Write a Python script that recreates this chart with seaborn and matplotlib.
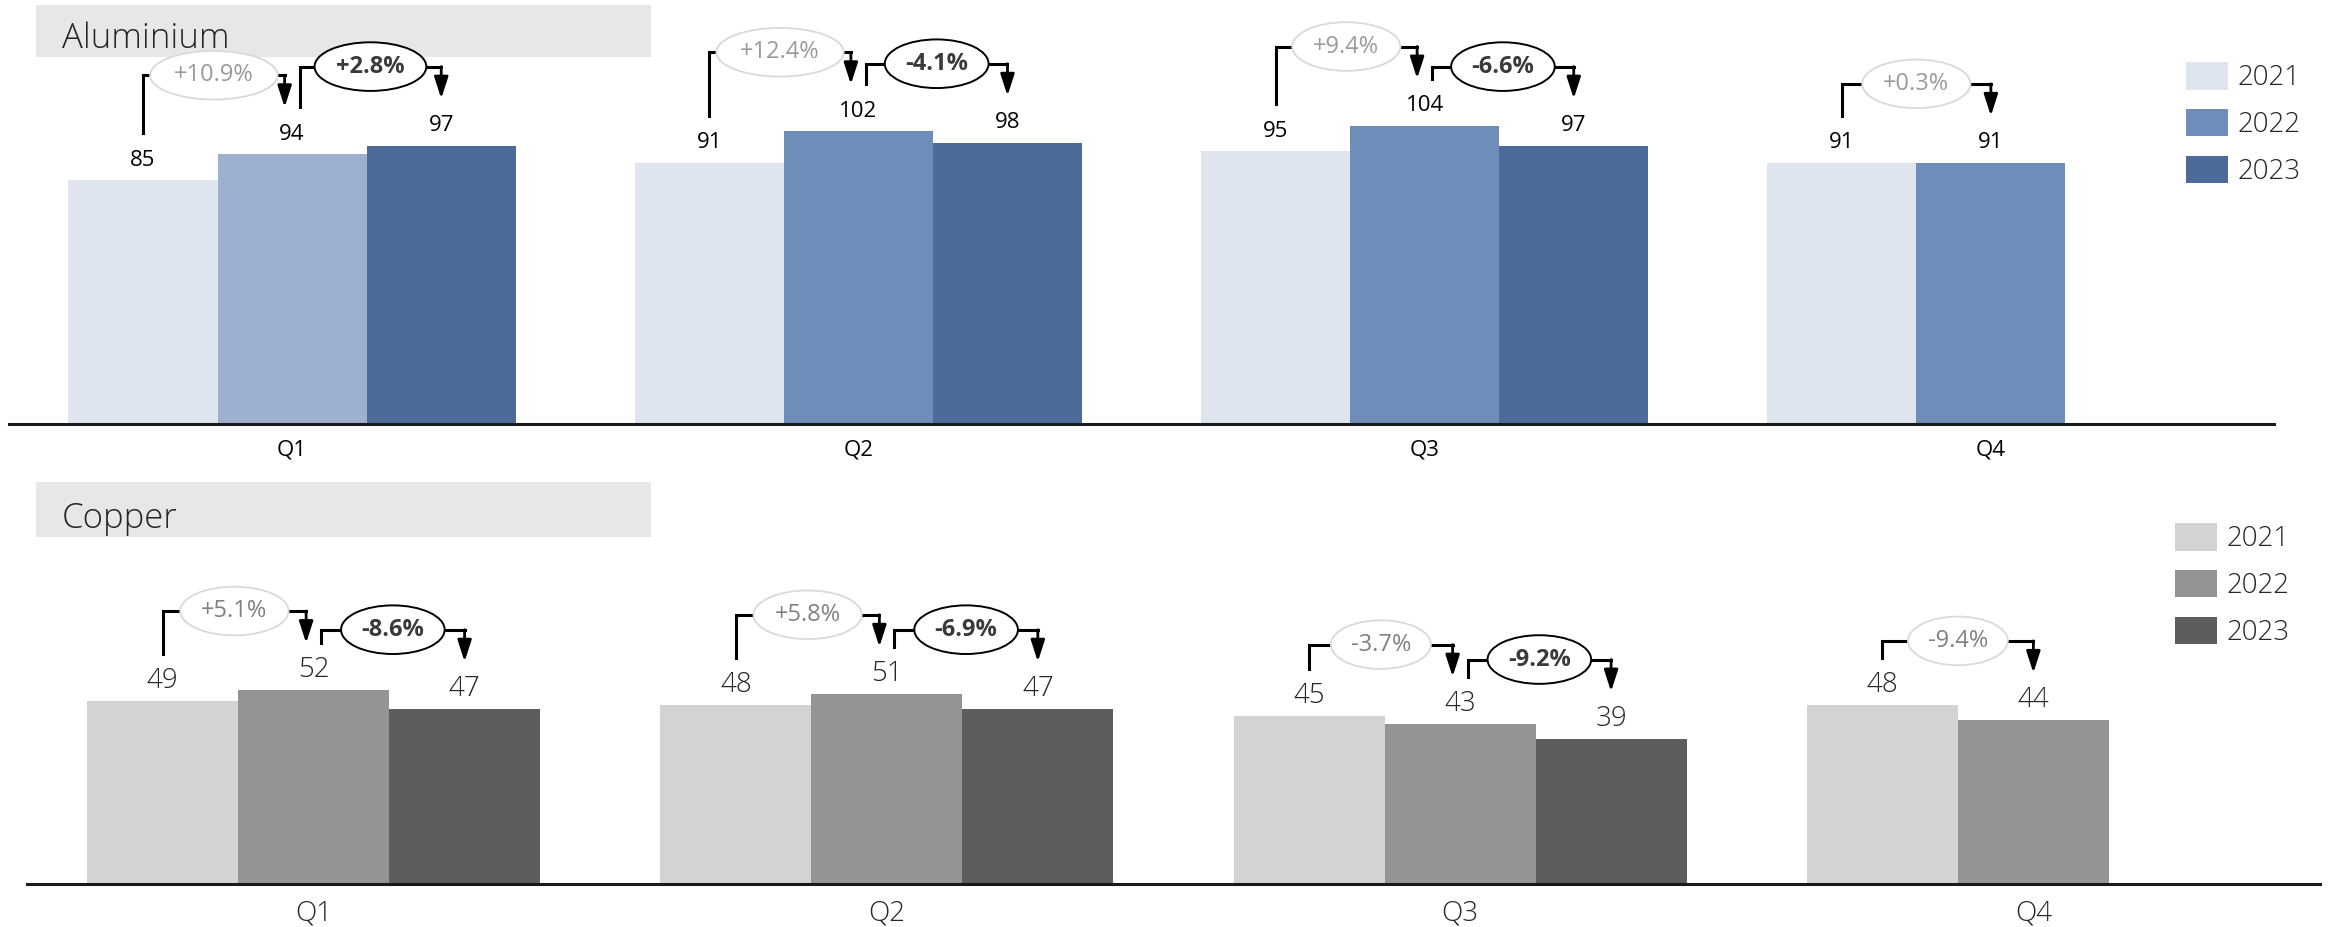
import numpy as np
import pandas as pd
import matplotlib
matplotlib.use("Agg")
import matplotlib.pyplot as plt
from matplotlib.patches import Rectangle, Patch
import seaborn as sns

# ---- data -------------------------------------------------------------
quarters = ["Q1", "Q2", "Q3", "Q4"]
years = ["2021", "2022", "2023"]

aluminium_2021 = [85, 91, 95, 91]
aluminium_2022 = [94, 102, 104, 91]
aluminium_2023 = [97, 98, 97, np.nan]
aluminium_change_22 = ["+10.9%", "+12.4%", "+9.4%", "+0.3%"]
aluminium_change_23 = ["+2.8%", "-4.1%", "-6.6%", None]

copper_2021 = [49, 48, 45, 48]
copper_2022 = [52, 51, 43, 44]
copper_2023 = [47, 47, 39, np.nan]
copper_change_22 = ["+5.1%", "+5.8%", "-3.7%", "-9.4%"]
copper_change_23 = ["-8.6%", "-6.9%", "-9.2%", None]

aluminium_colors = ["#dfe5ef", "#6e8db8", "#4c6b99"]
aluminium_q1_2022_color = "#9db0cf"
copper_colors = ["#d3d3d3", "#949494", "#5d5d5d"]

# ---- style ------------------------------------------------------------
sns.set_style("white")
plt.rcParams["font.family"] = ["Open Sans", "DejaVu Sans"]

W, H = 2330, 927
fig = plt.figure(figsize=(W / 100, H / 100), dpi=100)


def fig_box(left, top, right, bottom):
    return [left / W, 1 - bottom / H, (right - left) / W, (bottom - top) / H]


def long_frame(series):
    rows = []
    for year, vals in zip(years, series):
        for q, v in zip(quarters, vals):
            if not np.isnan(v):
                rows.append({"quarter": q, "year": year, "value": v})
    return pd.DataFrame(rows)


def bracket(ax, x0, top0, x1, top1, text, px_y, text_kw, edge, edge_lw):
    y0 = top0 + 47 / px_y
    y1 = top1 + 47 / px_y
    yh = top1 + 79 / px_y
    ax.plot([x0, x0, x1], [y0, yh, yh], color="black", lw=2.2,
            solid_joinstyle="miter", solid_capstyle="projecting",
            clip_on=False, zorder=3)
    ax.annotate("", xy=(x1, y1), xytext=(x1, yh),
                arrowprops=dict(arrowstyle="-|>,head_length=1.3,head_width=0.42",
                                color="black", lw=2.0, shrinkA=0, shrinkB=0,
                                mutation_scale=10),
                annotation_clip=False, zorder=3)
    ax.text((x0 + x1) / 2, yh, text, ha="center", va="center", zorder=4,
            clip_on=False,
            bbox=dict(boxstyle="ellipse,pad=0.22", fc="white", ec=edge, lw=edge_lw),
            **text_kw)


def draw_panel(ax, series, palette, change_a, change_b, ymax,
               label_size, label_weight, label_color, grey_text):
    df = long_frame(series)
    sns.barplot(data=df, x="quarter", y="value", hue="year", order=quarters,
                hue_order=years, palette=palette, width=0.79, saturation=1,
                legend=False, errorbar=None, linewidth=0, ax=ax, zorder=2)
    ax.set_facecolor("none")
    ax.set_xlim(-0.5, 3.5)
    ax.set_ylim(0, ymax)
    ax.set_xlabel("")
    ax.set_ylabel("")
    ax.set_yticks([])
    ax.set_xticks(range(len(quarters)))
    ax.set_xticklabels(quarters, fontsize=label_size, fontweight=label_weight,
                       color=label_color)
    ax.tick_params(axis="x", length=0, pad=11)
    for side in ["top", "left", "right"]:
        ax.spines[side].set_visible(False)
    ax.spines["bottom"].set_color("#1a1a1a")
    ax.spines["bottom"].set_linewidth(2.2)

    px_y = ax.transData.transform((0, 1))[1] - ax.transData.transform((0, 0))[1]
    px_x = ax.transData.transform((1, 0))[0] - ax.transData.transform((0, 0))[0]

    bars = {}
    for yi, cont in enumerate(ax.containers):
        for p in cont:
            cx = p.get_x() + p.get_width() / 2
            bars[(int(round(cx)), yi)] = (cx, p.get_height(), p)

    for (qi, yi), (cx, h, p) in bars.items():
        ax.annotate(f"{h:.0f}", xy=(cx, h), xytext=(0, 20), textcoords="offset pixels",
                    ha="center", va="center", fontsize=label_size,
                    fontweight=label_weight, color=label_color, zorder=3)

    grey_kw = dict(fontsize=17, color=grey_text)
    dark_kw = dict(fontsize=17, color="#3a3a3a", fontweight="bold")
    for qi in range(len(quarters)):
        x0, h0, _ = bars[(qi, 0)]
        x1, h1, _ = bars[(qi, 1)]
        second = change_b[qi] is not None
        off = 7.5 / px_x if second else 0
        bracket(ax, x0, h0, x1 - off, h1, change_a[qi], px_y, grey_kw, "#d9d9d9", 1.3)
        if second:
            x2, h2, _ = bars[(qi, 2)]
            bracket(ax, x1 + off, h1, x2, h2, change_b[qi], px_y, dark_kw, "black", 1.4)
    return bars


def add_legend(ax, colors, left_px, top_px):
    handles = [Patch(facecolor=c, edgecolor="none") for c in colors]
    leg = ax.legend(handles, years, loc="upper left",
                    bbox_to_anchor=(left_px / W, 1 - top_px / H),
                    bbox_transform=fig.transFigure, frameon=False,
                    fontsize=20, handlelength=1.5, handleheight=1.15,
                    handletextpad=0.35, labelspacing=0.6, borderpad=0,
                    borderaxespad=0)
    for t in leg.get_texts():
        t.set_color("#262626")
        t.set_fontweight("light")


def add_title(text, top_px, bottom_px, baseline_px):
    fig.add_artist(Rectangle((36 / W, 1 - bottom_px / H), (651 - 36) / W,
                             (bottom_px - top_px) / H, transform=fig.transFigure,
                             fc="#e6e7e8", ec="none", zorder=-1))
    fig.text(62 / W, 1 - baseline_px / H, text, va="baseline", ha="left",
             fontsize=25, fontweight="light", color="#262626")


# ---- aluminium --------------------------------------------------------
add_title("Aluminium", 5, 57, 48)
ax_al = fig.add_axes(fig_box(9, 0, 2274, 424))
bars_al = draw_panel(ax_al, [aluminium_2021, aluminium_2022, aluminium_2023],
                     aluminium_colors, aluminium_change_22, aluminium_change_23,
                     424 / 2.87, 16, "normal", "black", "#9a9a9a")
bars_al[(0, 1)][2].set_facecolor(aluminium_q1_2022_color)
add_legend(ax_al, aluminium_colors, 2186, 62)

# ---- copper -----------------------------------------------------------
add_title("Copper", 482, 537, 528)
ax_cu = fig.add_axes(fig_box(27, 470, 2320, 884))
draw_panel(ax_cu, [copper_2021, copper_2022, copper_2023],
           copper_colors, copper_change_22, copper_change_23,
           414 / 3.73, 20, "light", "#262626", "#808080")
add_legend(ax_cu, copper_colors, 2175, 523)

fig.savefig("out.png", dpi=100)
